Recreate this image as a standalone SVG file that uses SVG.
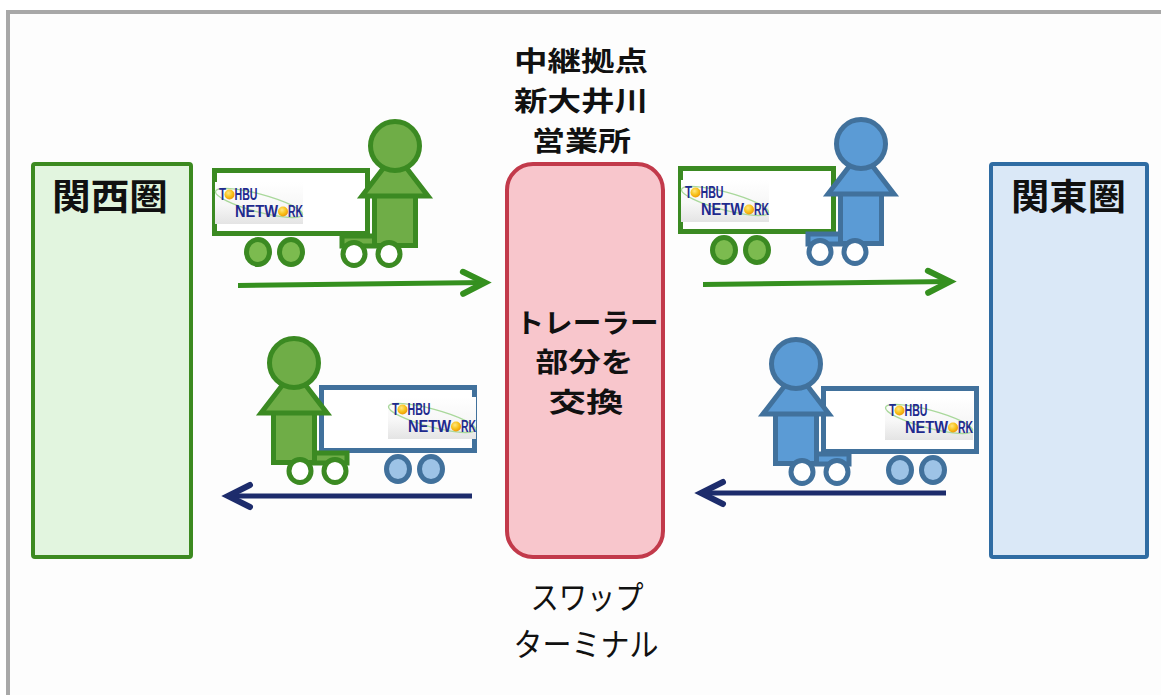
<svg xmlns="http://www.w3.org/2000/svg" xmlns:xlink="http://www.w3.org/1999/xlink" width="1161" height="695" viewBox="0 0 1161 695">
  <style>
    .region { stroke-width: 4; }
    .west { fill: #e2f5df; stroke: #3c8a20; }
    .east { fill: #dae8f7; stroke: #2f6ca3; }
    .hub { fill: #f8c6cc; stroke: #c23a4b; stroke-width: 4; }
    .jp { font-family: "Noto Sans CJK JP", "Noto Sans", sans-serif; fill: #111; text-anchor: middle; }
    .bold { font-weight: 700; }
    .arrow { fill: none; stroke-width: 5; }
    .go { stroke: #35901f; }
    .back { stroke: #1d2c6c; }
    .part { stroke-width: 5; stroke-linejoin: miter; }
    .g-line { stroke: #3b8a22; }
    .g-fill { fill: #6fad47; }
    .g-lite { fill: #7cbb4f; }
    .b-line { stroke: #41719c; }
    .b-fill { fill: #5b9bd5; }
    .b-lite { fill: #9dc3e6; }
    .white { fill: #ffffff; }
    .logo-txt { font-family: "Liberation Sans", Arial, sans-serif; font-weight: 700; font-size: 16px; fill: #1f2a8e; }
  </style>
  <defs>
    <marker id="head-go" markerUnits="userSpaceOnUse" viewBox="-28 -15 32 30" refX="0" refY="0" markerWidth="32" markerHeight="30" orient="auto" overflow="visible">
      <path d="M-22,-11 L0,0 L-22,11" fill="none" stroke="#35901f" stroke-width="6" stroke-linecap="round"/>
    </marker>
    <marker id="head-back" markerUnits="userSpaceOnUse" viewBox="-28 -15 32 30" refX="0" refY="0" markerWidth="32" markerHeight="30" orient="auto" overflow="visible">
      <path d="M-22,-11 L0,0 L-22,11" fill="none" stroke="#1d2c6c" stroke-width="6" stroke-linecap="round"/>
    </marker>
    <linearGradient id="logoBg" x1="0" y1="0" x2="0" y2="1">
      <stop offset="0" stop-color="#ffffff"/>
      <stop offset="0.55" stop-color="#f7f7f7"/>
      <stop offset="1" stop-color="#e4e4e4"/>
    </linearGradient>
    <radialGradient id="sun" cx="0.4" cy="0.35" r="0.65">
      <stop offset="0" stop-color="#ffe680"/>
      <stop offset="0.6" stop-color="#f8c21a"/>
      <stop offset="1" stop-color="#ee9a0a"/>
    </radialGradient>
    <!-- company mark painted on each trailer -->
    <g id="logo">
      <rect x="0" y="0" width="88" height="42" fill="url(#logoBg)"/>
      <ellipse cx="44" cy="21" rx="45" ry="9" transform="rotate(15 44 21)" fill="none" stroke="#a9d89b" stroke-width="1.4"/>
      <text class="logo-txt" x="4" y="18" textLength="7" lengthAdjust="spacingAndGlyphs">T</text>
      <circle cx="14.5" cy="12.5" r="5" fill="url(#sun)"/>
      <text class="logo-txt" x="19.5" y="18" textLength="23" lengthAdjust="spacingAndGlyphs">HBU</text>
      <text class="logo-txt" x="20" y="35" textLength="43" lengthAdjust="spacingAndGlyphs">NETW</text>
      <circle cx="68" cy="29.5" r="5" fill="url(#sun)"/>
      <text class="logo-txt" x="73" y="35" textLength="15" lengthAdjust="spacingAndGlyphs">RK</text>
    </g>
  </defs>

  <rect x="0" y="0" width="1161" height="695" fill="#ffffff"/>
  <!-- slide frame -->
  <rect x="8" y="12" width="1300" height="760" fill="#fdfdfd" stroke="#a8a8a8" stroke-width="4"/>

  <!-- regions -->
  <g id="kansai">
    <rect class="region west" x="33" y="164" width="158" height="393" rx="2"/>
    <text class="jp bold" x="110" y="210" font-size="36" textLength="116" lengthAdjust="spacingAndGlyphs">関西圏</text>
  </g>
  <g id="kanto">
    <rect class="region east" x="991" y="164" width="156" height="393" rx="2"/>
    <text class="jp bold" x="1068.5" y="210" font-size="36" textLength="115" lengthAdjust="spacingAndGlyphs">関東圏</text>
  </g>

  <!-- relay point -->
  <g id="relay-label">
    <text class="jp bold" x="581" y="71" font-size="27" textLength="134" lengthAdjust="spacingAndGlyphs">中継拠点</text>
    <text class="jp bold" x="581" y="110.5" font-size="27" textLength="134" lengthAdjust="spacingAndGlyphs">新大井川</text>
    <text class="jp bold" x="581.5" y="150.5" font-size="27" textLength="99" lengthAdjust="spacingAndGlyphs">営業所</text>
  </g>
  <g id="swap-terminal">
    <rect class="hub" x="507" y="164" width="156" height="393" rx="26"/>
    <text class="jp bold" x="587" y="332.5" font-size="27" textLength="143" lengthAdjust="spacingAndGlyphs">トレーラー</text>
    <text class="jp bold" x="584.5" y="372" font-size="27" textLength="98" lengthAdjust="spacingAndGlyphs">部分を</text>
    <text class="jp bold" x="586" y="411.5" font-size="27" textLength="75" lengthAdjust="spacingAndGlyphs">交換</text>
  </g>
  <g id="terminal-label">
    <text class="jp" x="587" y="609" font-size="32" textLength="113" lengthAdjust="spacingAndGlyphs">スワップ</text>
    <text class="jp" x="586" y="656" font-size="32" textLength="145" lengthAdjust="spacingAndGlyphs">ターミナル</text>
  </g>

  <!-- trucks: green cab + green trailer heading east -->
  <g id="truck-west-out">
    <rect class="part g-line white" x="214.5" y="170.5" width="153" height="63"/>
    <rect class="part g-line g-fill" x="342" y="236" width="34" height="10"/>
    <rect class="part g-line g-fill" x="374.5" y="195.5" width="41" height="50"/>
    <polygon class="part g-line g-fill" points="362,196 428,196 395,153"/>
    <circle class="part g-line g-fill" cx="395" cy="146" r="24.5"/>
    <ellipse class="part g-line g-lite" cx="258" cy="252" rx="11.5" ry="12.5"/>
    <ellipse class="part g-line g-lite" cx="291" cy="252" rx="11.5" ry="12.5"/>
    <ellipse class="part g-line white" cx="354" cy="254" rx="11" ry="11.5"/>
    <ellipse class="part g-line white" cx="389" cy="254" rx="11" ry="11.5"/>
  </g>
  <use xlink:href="#logo" x="215" y="182"/>

  <!-- blue cab hauling the green trailer onward to the east -->
  <g id="truck-east-out" transform="translate(466,-2)">
    <rect class="part g-line white" x="214.5" y="170.5" width="153" height="63"/>
    <rect class="part b-line b-fill" x="342" y="236" width="34" height="10"/>
    <rect class="part b-line b-fill" x="374.5" y="195.5" width="41" height="50"/>
    <polygon class="part b-line b-fill" points="362,196 428,196 395,153"/>
    <circle class="part b-line b-fill" cx="395" cy="146" r="24.5"/>
    <ellipse class="part g-line g-lite" cx="258" cy="252" rx="11.5" ry="12.5"/>
    <ellipse class="part g-line g-lite" cx="291" cy="252" rx="11.5" ry="12.5"/>
    <ellipse class="part b-line white" cx="354" cy="254" rx="11" ry="11.5"/>
    <ellipse class="part b-line white" cx="389" cy="254" rx="11" ry="11.5"/>
  </g>
  <use xlink:href="#logo" x="681" y="180"/>

  <!-- green cab hauling the blue trailer back west -->
  <g id="truck-west-back" transform="translate(689,217) scale(-1,1)">
    <rect class="part b-line white" x="214.5" y="170.5" width="153" height="63"/>
    <rect class="part g-line g-fill" x="342" y="236" width="34" height="10"/>
    <rect class="part g-line g-fill" x="374.5" y="195.5" width="41" height="50"/>
    <polygon class="part g-line g-fill" points="362,196 428,196 395,153"/>
    <circle class="part g-line g-fill" cx="395" cy="146" r="24.5"/>
    <ellipse class="part b-line b-lite" cx="258" cy="252" rx="11.5" ry="12.5"/>
    <ellipse class="part b-line b-lite" cx="291" cy="252" rx="11.5" ry="12.5"/>
    <ellipse class="part g-line white" cx="354" cy="254" rx="11" ry="11.5"/>
    <ellipse class="part g-line white" cx="389" cy="254" rx="11" ry="11.5"/>
  </g>
  <use xlink:href="#logo" x="388" y="397"/>

  <!-- blue cab + blue trailer heading west -->
  <g id="truck-east-back" transform="translate(1191,218) scale(-1,1)">
    <rect class="part b-line white" x="214.5" y="170.5" width="153" height="63"/>
    <rect class="part b-line b-fill" x="342" y="236" width="34" height="10"/>
    <rect class="part b-line b-fill" x="374.5" y="195.5" width="41" height="50"/>
    <polygon class="part b-line b-fill" points="362,196 428,196 395,153"/>
    <circle class="part b-line b-fill" cx="395" cy="146" r="24.5"/>
    <ellipse class="part b-line b-lite" cx="258" cy="252" rx="11.5" ry="12.5"/>
    <ellipse class="part b-line b-lite" cx="291" cy="252" rx="11.5" ry="12.5"/>
    <ellipse class="part b-line white" cx="354" cy="254" rx="11" ry="11.5"/>
    <ellipse class="part b-line white" cx="389" cy="254" rx="11" ry="11.5"/>
  </g>
  <use xlink:href="#logo" x="885" y="398"/>

  <!-- flow arrows -->
  <g id="connectors">
    <path class="arrow go" d="M238,285.5 L485,282.5" marker-end="url(#head-go)"/>
    <path class="arrow go" d="M703,284.5 L950,281.5" marker-end="url(#head-go)"/>
    <path class="arrow back" d="M472,496 L228,496" marker-end="url(#head-back)"/>
    <path class="arrow back" d="M946,493 L701,493" marker-end="url(#head-back)"/>
  </g>
</svg>
